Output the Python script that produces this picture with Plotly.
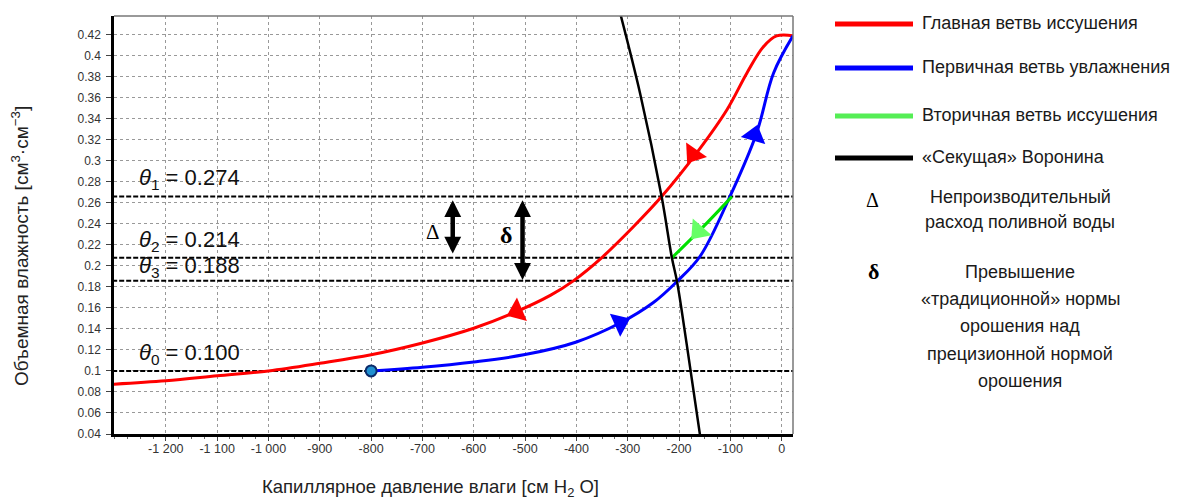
import plotly.graph_objects as go

# ---------------- data ----------------
red_x = [-1305, -1200, -1100, -1000, -900, -800, -700, -600, -523, -450, -406, -351, -289, -234, -166, -107, -68, -36, -10, 25]
red_y = [0.0873, 0.0906, 0.0953, 0.100, 0.1072, 0.1153, 0.1265, 0.1405, 0.155, 0.172, 0.1856, 0.2075, 0.237, 0.2657, 0.307, 0.348, 0.383, 0.408, 0.4185, 0.4185]

blue_x = [-800, -700, -600, -500, -400, -315, -250, -204, -159, -101, -49, -16, 22]
blue_y = [0.100, 0.1035, 0.1085, 0.1155, 0.1275, 0.1455, 0.165, 0.185, 0.209, 0.2657, 0.326, 0.383, 0.4185]

green_x = [-97, -155, -214]
green_y = [0.2657, 0.236, 0.2075]

black_x = [-320, -276, -234, -214, -204, -185, -158]
black_y = [0.45, 0.364, 0.2657, 0.2075, 0.185, 0.125, 0.035]

start_x = [-800]
start_y = [0.100]

theta_levels = [0.2657, 0.2075, 0.1856, 0.100]
theta_labels = ["<i>θ</i><sub>1</sub>&nbsp;=&nbsp;0.274", "<i>θ</i><sub>2</sub>&nbsp;=&nbsp;0.214",
                "<i>θ</i><sub>3</sub>&nbsp;=&nbsp;0.188", "<i>θ</i><sub>0</sub>&nbsp;=&nbsp;0.100"]
theta_label_y = [0.2826, 0.2237, 0.199, 0.1165]

# arrowheads: (prev point, arrow point) along each branch
red_arrows = [((-145, 0.325), (-172, 0.306)), ((-480, 0.164), (-516, 0.1565))]
blue_arrows = [((-345, 0.139), (-315, 0.1455)), ((-60, 0.312), (-53, 0.324))]
green_arrows = [((-140, 0.245), (-162, 0.233))]

delta_arrow = dict(x=-641, y0=0.2637, y1=0.2115)
small_delta_arrow = dict(x=-505, y0=0.2637, y1=0.1865)
delta_label = dict(x=-680, y=0.232)
small_delta_label = dict(x=-537, y=0.229)

x_tickvals = [-1200, -1100, -1000, -900, -800, -700, -600, -500, -400, -300, -200, -100, 0]
x_ticktext = ["-1 200", "-1 100", "-1 000", "-900", "-800", "-700", "-600", "-500", "-400", "-300", "-200", "-100", "0"]
y_tickvals = [0.04, 0.06, 0.08, 0.10, 0.12, 0.14, 0.16, 0.18, 0.20, 0.22, 0.24, 0.26, 0.28, 0.30, 0.32, 0.34, 0.36, 0.38, 0.40, 0.42]
y_ticktext = ["0.04", "0.06", "0.08", "0.1", "0.12", "0.14", "0.16", "0.18", "0.2", "0.22", "0.24", "0.26",
              "0.28", "0.3", "0.32", "0.34", "0.36", "0.38", "0.4", "0.42"]

x_title = "Капиллярное давление влаги [см H<sub>2</sub> O]"
y_title = "Объемная влажность [см<sup>3</sup>·см<sup>−3</sup>]"

legend_items = [("Главная ветвь иссушения", "#ff0000", 24),
                ("Первичная ветвь увлажнения", "#0000ff", 68),
                ("Вторичная ветвь иссушения", "#55ee55", 116),
                ("«Секущая» Воронина", "#000000", 158)]
delta_text = ["Непроизводительный", "расход поливной воды"]
small_delta_text = ["Превышение", "«традиционной» нормы", "орошения над", "прецизионной нормой", "орошения"]

# ---------------- layout geometry ----------------
OFF = 8  # page body margin of the html page
W, H = 1180 - OFF, 500 - OFF
ML, MT = 114 - OFF, 16 - OFF
MR = W - (793 - OFF)
MB = H - (434 - OFF)
PW, PH = W - ML - MR, H - MT - MB


def pxx(px):
    return (px - OFF - ML) / PW


def pxy(py):
    return (H - MB - (py - OFF)) / PH


fig = go.Figure()

# threshold dashed lines
for lv in theta_levels:
    fig.add_trace(go.Scatter(x=[-1400, 100], y=[lv, lv], mode="lines",
                             line=dict(color="black", width=2, dash="5px,2px"),
                             hoverinfo="skip", showlegend=False))

fig.add_trace(go.Scatter(x=red_x, y=red_y, mode="lines", line=dict(color="#ff0000", width=3, shape="spline"),
                         showlegend=False))
fig.add_trace(go.Scatter(x=blue_x, y=blue_y, mode="lines", line=dict(color="#0000ff", width=3, shape="spline"),
                         showlegend=False))
fig.add_trace(go.Scatter(x=green_x, y=green_y, mode="lines", line=dict(color="#00e000", width=3, shape="spline"),
                         showlegend=False))
fig.add_trace(go.Scatter(x=black_x, y=black_y, mode="lines", line=dict(color="#000000", width=2.5, shape="spline"),
                         showlegend=False))


def add_arrows(pairs, color):
    for (p0, p1) in pairs:
        fig.add_trace(go.Scatter(
            x=[p0[0], p1[0]], y=[p0[1], p1[1]], mode="markers",
            marker=dict(symbol="triangle-up", size=[1, 22], color=color, opacity=[0, 1],
                        angleref="previous", line=dict(width=0)),
            hoverinfo="skip", showlegend=False))


add_arrows(red_arrows, "#ff0000")
add_arrows(blue_arrows, "#0000ff")
add_arrows(green_arrows, "#66ff66")

fig.add_trace(go.Scatter(x=start_x, y=start_y, mode="markers",
                         marker=dict(symbol="circle", size=11, color="#2090d0",
                                     line=dict(color="#0a2a6a", width=2)),
                         showlegend=False))

annotations = []
for txt, yy in zip(theta_labels, theta_label_y):
    annotations.append(dict(x=-1256, y=yy, xref="x", yref="y", text=txt, showarrow=False,
                            xanchor="left", yanchor="middle",
                            font=dict(family="Liberation Sans", size=22, color="#111")))

for arr in (delta_arrow, small_delta_arrow):
    annotations.append(dict(x=arr["x"], y=arr["y1"], ax=arr["x"], ay=arr["y0"], xref="x", yref="y",
                            axref="x", ayref="y", text="", showarrow=True, arrowhead=2,
                            arrowside="end+start", arrowsize=0.75, arrowwidth=4.5, arrowcolor="black",
                            standoff=0, startstandoff=0))

annotations.append(dict(x=delta_label["x"], y=delta_label["y"], xref="x", yref="y", text="Δ",
                        showarrow=False, font=dict(family="Liberation Serif", size=21, color="black")))
annotations.append(dict(x=small_delta_label["x"], y=small_delta_label["y"], xref="x", yref="y", text="<b>δ</b>",
                        showarrow=False, font=dict(family="Liberation Serif", size=24, color="black")))

# axis titles
annotations.append(dict(x=pxx(430), y=pxy(488), xref="paper", yref="paper", text=x_title, showarrow=False,
                        xanchor="center", yanchor="middle",
                        font=dict(family="Liberation Sans", size=18.5, color="#222")))
annotations.append(dict(x=pxx(20), y=pxy(246), xref="paper", yref="paper", text=y_title, showarrow=False,
                        xanchor="center", yanchor="middle", textangle=-90,
                        font=dict(family="Liberation Sans", size=19, color="#222")))

shapes = []
# top / right thin grey frame
shapes.append(dict(type="line", xref="paper", yref="paper", x0=0, x1=1, y0=1, y1=1,
                   line=dict(color="#777", width=1.5)))
shapes.append(dict(type="line", xref="paper", yref="paper", x0=1, x1=1, y0=0, y1=1,
                   line=dict(color="#777", width=1.5)))

# custom legend
for txt, col, py in legend_items:
    shapes.append(dict(type="line", xref="paper", yref="paper", x0=pxx(835), x1=pxx(913),
                       y0=pxy(py), y1=pxy(py), line=dict(color=col, width=5)))
    annotations.append(dict(x=pxx(920), y=pxy(py - 1), xref="paper", yref="paper", text=txt,
                            showarrow=False, xanchor="left", yanchor="middle",
                            font=dict(family="Liberation Sans", size=18, color="#1a1a1a")))

annotations.append(dict(x=pxx(881), y=pxy(200), xref="paper", yref="paper", text="Δ", showarrow=False,
                        font=dict(family="Liberation Serif", size=20, color="black")))
for i, t in enumerate(delta_text):
    annotations.append(dict(x=pxx(1020), y=pxy(197 + 25 * i), xref="paper", yref="paper", text=t,
                            showarrow=False, xanchor="center", yanchor="middle",
                            font=dict(family="Liberation Sans", size=18, color="#1a1a1a")))
annotations.append(dict(x=pxx(881), y=pxy(271), xref="paper", yref="paper", text="<b>δ</b>", showarrow=False,
                        font=dict(family="Liberation Serif", size=22, color="black")))
for i, t in enumerate(small_delta_text):
    annotations.append(dict(x=pxx(1020), y=pxy(272 + 27.2 * i), xref="paper", yref="paper", text=t,
                            showarrow=False, xanchor="center", yanchor="middle",
                            font=dict(family="Liberation Sans", size=18, color="#1a1a1a")))

fig.update_layout(
    width=W, height=H,
    margin=dict(l=ML, r=MR, t=MT, b=MB, autoexpand=False),
    paper_bgcolor="white", plot_bgcolor="white",
    showlegend=False,
    shapes=shapes, annotations=annotations,
    xaxis=dict(range=[-1301, 22], tickvals=x_tickvals, ticktext=x_ticktext, automargin=False,
               showgrid=True, gridcolor="#999", griddash="3px,3px", gridwidth=1,
               zeroline=False, showline=True, linecolor="black", linewidth=2.5,
               ticks="outside", ticklen=4, tickcolor="#444", ticklabelstandoff=-3,
               minor=dict(dtick=25, tick0=0, ticks="outside", ticklen=2, tickcolor="#666", showgrid=False),
               tickfont=dict(family="Liberation Sans", size=12.5, color="#333")),
    yaxis=dict(range=[0.04, 0.4374], tickvals=y_tickvals, ticktext=y_ticktext, automargin=False,
               showgrid=True, gridcolor="#999", griddash="3px,3px", gridwidth=1,
               zeroline=False, showline=True, linecolor="black", linewidth=2.5,
               ticks="outside", ticklen=5, tickcolor="#444", ticklabelstandoff=3,
               tickfont=dict(family="Liberation Sans", size=12, color="#333")),
)

fig.write_html("out.html")
